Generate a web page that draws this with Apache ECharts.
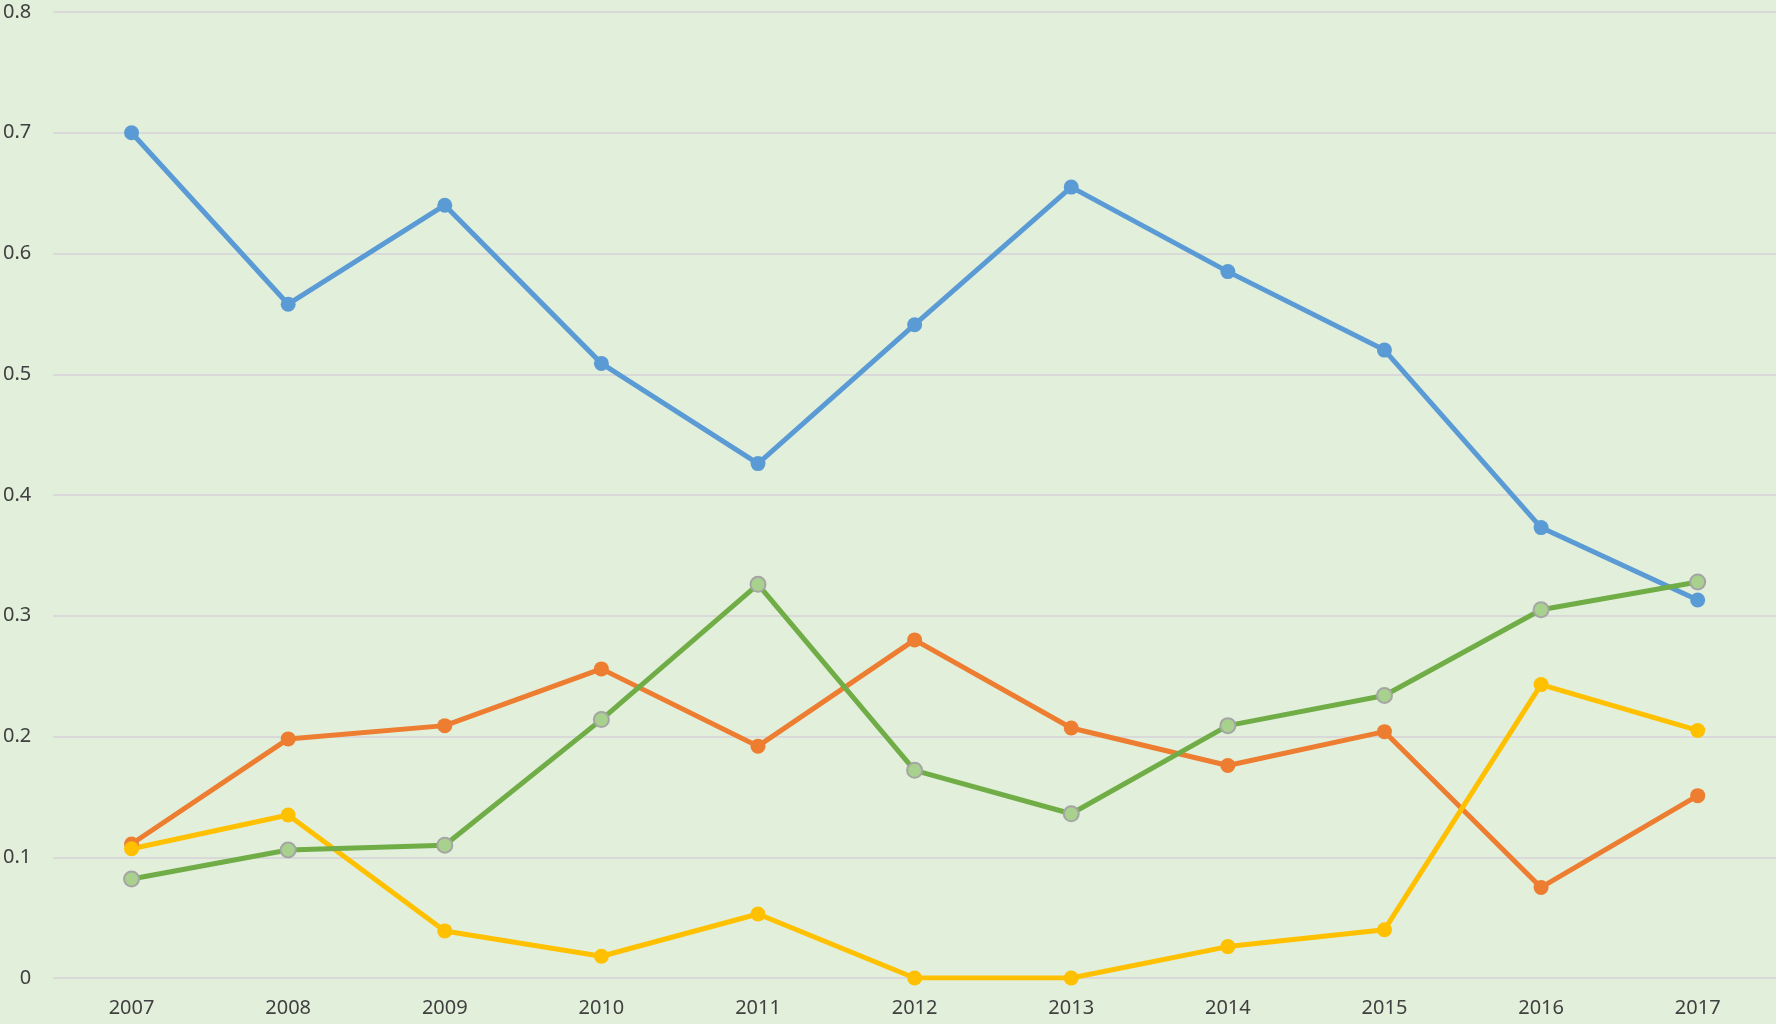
<!DOCTYPE html>
<html>
<head>
<meta charset="utf-8">
<script src="https://cdn.jsdelivr.net/npm/echarts@6/dist/echarts.min.js"></script>
<style>
  html, body { margin: 0; padding: 0; background: #E2EFDA; }
  #chart { width: 1776px; height: 1024px; }
</style>
</head>
<body>
<div id="chart"></div>
<script>
// 年份
const years = ['2007', '2008', '2009', '2010', '2011', '2012', '2013', '2014', '2015', '2016', '2017']
// 四条折线
const blueVals = [0.700, 0.558, 0.640, 0.509, 0.426, 0.541, 0.655, 0.585, 0.520, 0.373, 0.313]
const orangeVals = [0.111, 0.198, 0.209, 0.256, 0.192, 0.280, 0.207, 0.176, 0.204, 0.075, 0.151]
const yellowVals = [0.107, 0.135, 0.039, 0.018, 0.053, 0, 0, 0.026, 0.040, 0.243, 0.205]
const greenVals = [0.082, 0.106, 0.110, 0.214, 0.326, 0.172, 0.136, 0.209, 0.234, 0.305, 0.328]

const font = 'Noto Sans'

function lineSeries(data, color, markerColor, markerBorder) {
  return {
    type: 'line',
    data: data,
    symbol: 'circle',
    symbolSize: 15,
    showAllSymbol: true,
    lineStyle: { color: color, width: 5 },
    itemStyle: {
      color: markerColor || color,
      borderColor: markerBorder || markerColor || color,
      borderWidth: markerBorder ? 2 : 0
    },
    emphasis: { disabled: true },
    animation: false
  }
}

const chart = echarts.init(document.getElementById('chart'))
chart.setOption({
  backgroundColor: '#E2EFDA',
  grid: { left: 52, right: 0, top: 12, bottom: 46 },
  xAxis: {
    type: 'category',
    data: years,
    boundaryGap: true,
    axisLine: { show: false },
    axisTick: { show: false },
    axisLabel: { color: '#404040', fontSize: 20, fontFamily: font, margin: 20 }
  },
  yAxis: {
    type: 'value',
    min: 0,
    max: 0.8,
    interval: 0.1,
    axisLine: { show: false },
    axisTick: { show: false },
    splitLine: { lineStyle: { color: '#D9D9D9', width: 2 } },
    axisLabel: {
      color: '#404040',
      fontSize: 20,
      fontFamily: font,
      margin: 22,
      formatter: v => (v === 0 ? '0' : v.toFixed(1))
    }
  },
  series: [
    lineSeries(blueVals, '#5B9BD5'),
    lineSeries(orangeVals, '#ED7D31'),
    lineSeries(yellowVals, '#FFC000'),
    lineSeries(greenVals, '#70AD47', '#A9D18E', '#A5A5A5')
  ]
})
</script>
</body>
</html>
